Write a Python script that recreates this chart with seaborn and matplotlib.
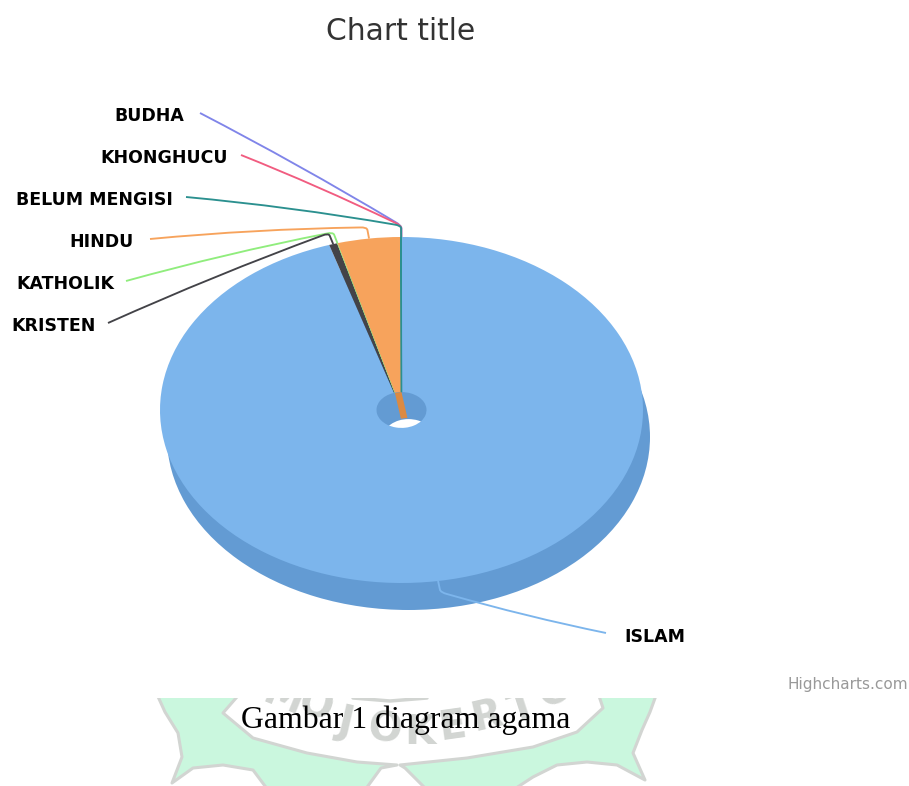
## Pie of agama (religion) counts, Highcharts 3D look, with caption and scan watermark below.

import numpy as np
import pandas as pd
import matplotlib
matplotlib.use('Agg')
import matplotlib.pyplot as plt
from matplotlib.patches import Ellipse, PathPatch, Polygon, Rectangle
from matplotlib.path import Path
import seaborn as sns

# Data, percent.
categories = ['ISLAM', 'KRISTEN', 'KATHOLIK', 'HINDU', 'BELUM MENGISI', 'KHONGHUCU', 'BUDHA']
values = [95.16, 0.55, 0.03, 4.23, 0.01, 0.01, 0.01]
slice_colors = ['#7cb5ec', '#434348', '#90ed7d', '#f7a35c', '#2b908f', '#f15c80', '#8085e9']

# Label placement, pixels: right/left text anchor and start of the leader.
label_x = [624, 96, 114, 134, 173, 228, 184]
label_y = [637, 326, 284, 242, 200, 158, 116]
leader_x = [606, 108, 126, 150, 186, 241, 200]
leader_y = [633, 323, 281, 239, 197, 155, 113]

# Watermark shapes, pixels.
leaf_left_x = [155, 165, 178, 182, 172, 193, 223, 253, 268, 365, 381, 397, 357, 307, 253, 223, 243]
leaf_left_y = [690, 712, 733, 757, 783, 768, 765, 770, 790, 790, 768, 765, 762, 753, 738, 713, 690]
leaf_right_x = [658, 650, 642, 633, 645, 617, 587, 557, 533, 513, 427, 405, 400, 467, 533, 577, 603, 597]
leaf_right_y = [690, 712, 730, 753, 780, 765, 762, 765, 777, 790, 790, 768, 765, 758, 747, 732, 708, 690]
wm_letters = list('MOJOKERTO')
wm_x = [283, 316, 345, 385, 420, 452, 487, 522, 556]
wm_y = [698, 706, 722, 730, 733, 727, 717, 708, 692]
wm_rot = [22, 18, 13, 6, 0, -8, -13, -18, -24]
arc_x = [353, 390, 427]
arc_y = [698, 701, 698]

df = pd.DataFrame({'agama': categories, 'persen': values})

# Pie geometry in pixels.
cx, cy = 401.5, 410
rx, ry = 241.5, 173
hole_rx = 25
drop_x, drop_y = 7, 27

sns.set_theme(style='white', font='DejaVu Sans')
palette = sns.color_palette(slice_colors)
side_color = '#639bd3'
wall_color = '#db8a42'
wm_gray = '#d2d5d2'

fig = plt.figure(figsize=(9.09, 7.86), dpi=100)

# Pie axes, one data unit is the pie radius, stretched to an ellipse.
ax = fig.add_axes([0, 0, 1, 1])
ring = 1 - hole_rx / rx
ax.pie([df['persen'].sum()], colors=[side_color], radius=1, center=(drop_x / rx, -drop_y / ry),
       wedgeprops={'width': ring, 'linewidth': 0})
wedges, _ = ax.pie(df['persen'], colors=palette, radius=1, center=(0, 0), startangle=90,
                   counterclock=False, wedgeprops={'width': ring, 'linewidth': 0})
# The hair thin slices only show through their outline, teal on top.
for w, c, v, name in zip(wedges, palette, values, categories):
    if v < 0.1:
        w.set_edgecolor(c)
        w.set_linewidth(1.0 if name == 'BELUM MENGISI' else 0.3)
    if name == 'BELUM MENGISI':
        w.set_zorder(5)
ax.set_aspect('auto')
ax.set_xlim(-cx / rx, (909 - cx) / rx)
ax.set_ylim((cy - 786) / ry, cy / ry)
ax.axis('off')

# Overlay in pixel coordinates for leaders, text and watermark.
px = fig.add_axes([0, 0, 1, 1], facecolor='none')
px.set_xlim(0, 909)
px.set_ylim(786, 0)
px.axis('off')

# Slice angles, clockwise from the top.
ends = np.cumsum(values) / np.sum(values) * 360
starts = ends - np.array(values) / np.sum(values) * 360
mids = (starts + ends) / 2

# Inner wall of the hole for the orange slice.
hindu = categories.index('HINDU')
arc = np.radians(np.linspace(starts[hindu], ends[hindu], 12))
top_x = cx + hole_rx * np.sin(arc)
top_y = cy - hole_rx * ry / rx * np.cos(arc)
wall = np.column_stack([np.r_[top_x, top_x[::-1] + drop_x - 1], np.r_[top_y, top_y[::-1] + drop_y - 1]])
wall_patch = Polygon(wall, closed=True, facecolor=wall_color, edgecolor='none', zorder=2)
px.add_patch(wall_patch)
hole = Ellipse((cx, cy), 2 * hole_rx, 2 * hole_rx * ry / rx, transform=px.transData)
wall_patch.set_clip_path(hole)

# Leaders, order so the teal one ends on top.
for i in [2, 1, 3, 0, 6, 5, 4]:
    anchor = np.array([cx + rx * np.sin(np.radians(mids[i])), cy - ry * np.cos(np.radians(mids[i]))])
    # Leave the slice edge radially, then bend towards the label.
    corner = anchor + (anchor - np.array([cx, cy])) * 0.067
    start = np.array([leader_x[i], leader_y[i]], dtype=float)
    to_start = (start - corner) / np.linalg.norm(start - corner)
    to_anchor = (anchor - corner) / np.linalg.norm(anchor - corner)
    pre = corner + to_start * 7
    post = corner + to_anchor * 3
    mid = (start + pre) / 2
    mid[1] -= 0.02 * abs(start[0] - pre[0]) * (-1 if i == 0 else 1)
    verts = [start, mid, pre, corner, post, anchor]
    codes = [Path.MOVETO, Path.CURVE3, Path.CURVE3, Path.CURVE3, Path.CURVE3, Path.LINETO]
    px.add_patch(PathPatch(Path(verts, codes), facecolor='none', edgecolor=palette[i], lw=1.35, zorder=3))

    ha = 'left' if i == 0 else 'right'
    px.text(label_x[i], label_y[i], categories[i], ha=ha, va='center', fontsize=12.5,
            fontweight='bold', color='black', zorder=4)

# Title and credit.
px.text(401, 31, 'Chart title', ha='center', va='center', fontsize=21.4, color='#333333')
px.text(908, 684, 'Highcharts.com', ha='right', va='center', fontsize=11, color='#999999')

# Watermark of the scanned page, cut off at the top.
wm_box = Rectangle((0, 698), 909, 88, transform=px.transData)
for xs, ys in [(leaf_left_x, leaf_left_y), (leaf_right_x, leaf_right_y)]:
    leaf = Polygon(np.column_stack([xs, ys]), closed=True, facecolor='#caf7de', edgecolor=wm_gray,
                   lw=2.2, joinstyle='round', zorder=1)
    px.add_patch(leaf)
    leaf.set_clip_path(wm_box)
top_arc, = px.plot(arc_x, arc_y, color=wm_gray, lw=2.5, zorder=1)
top_arc.set_clip_path(wm_box)
for ch, x, y, r in zip(wm_letters, wm_x, wm_y, wm_rot):
    t = px.text(x, y, ch, ha='center', va='center', fontsize=29, fontweight='bold', color=wm_gray,
                rotation=-r, zorder=1)
    t.set_clip_on(True)
    t.set_clip_path(wm_box)

# Caption.
px.text(406, 720, 'Gambar 1 diagram agama', ha='center', va='center', fontsize=22.9,
        family='Liberation Serif', color='black', zorder=5)

plt.savefig('out.png', dpi=100)
